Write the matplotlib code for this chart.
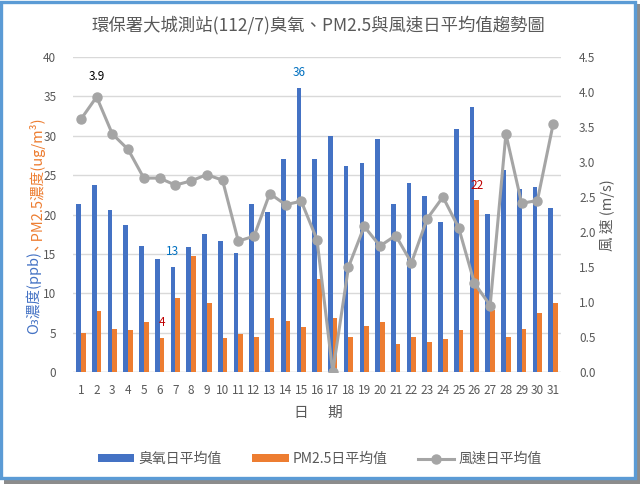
import matplotlib
matplotlib.use("Agg")
import matplotlib.pyplot as plt
from matplotlib.patches import Rectangle
import numpy as np

plt.rcParams['font.family'] = ['Noto Sans CJK TC', 'DejaVu Sans']

days = [str(i) for i in range(1, 32)]
o3 = [21.3, 23.7, 20.6, 18.7, 16.0, 14.4, 13.3, 15.9, 17.5, 16.6, 15.1, 21.3, 20.3, 27.0, 36.1, 27.0,
      30.0, 26.2, 26.6, 29.6, 21.3, 24.0, 22.4, 19.1, 30.8, 33.6, 20.1, 25.7, 23.2, 23.5, 20.8]
pm25 = [5.0, 7.7, 5.4, 5.3, 6.4, 4.3, 9.4, 14.7, 8.7, 4.3, 4.8, 4.5, 6.9, 6.5, 5.7, 11.8,
        6.9, 4.4, 5.8, 6.4, 3.6, 4.5, 3.8, 4.2, 5.3, 21.8, 7.9, 4.4, 5.4, 7.5, 8.8]
wind = [3.61, 3.93, 3.40, 3.18, 2.77, 2.77, 2.67, 2.73, 2.82, 2.74, 1.87, 1.94, 2.55, 2.39, 2.44, 1.89,
        0.0, 1.50, 2.08, 1.80, 1.95, 1.56, 2.19, 2.50, 2.06, 1.27, 0.95, 3.40, 2.41, 2.45, 3.54]
left_ticks = [0, 5, 10, 15, 20, 25, 30, 35, 40]
right_ticks = [0.0, 0.5, 1.0, 1.5, 2.0, 2.5, 3.0, 3.5, 4.0, 4.5]

title = "環保署大城測站(112/7)臭氧、PM2.5與風速日平均值趨勢圖"
legend_labels = ["臭氧日平均值", "PM2.5日平均值", "風速日平均值"]

W, H = 642, 484
fig = plt.figure(figsize=(W / 100, H / 100), dpi=100)

# frame with shadow
fig.patches.append(Rectangle((4 / W, 0), 636 / W, 480 / H, transform=fig.transFigure,
                             facecolor='#8c8c8c', edgecolor='none', zorder=-3))
fig.patches.append(Rectangle((1.5 / W, 6.5 / H), 633.5 / W, 476 / H, transform=fig.transFigure,
                             facecolor='white', edgecolor='#5B9BD5', linewidth=2.4, zorder=-2))

ax = fig.add_axes([73 / W, 1 - 372 / H, (561 - 73) / W, (372 - 57) / H])
ax.set_facecolor('none')
x = np.arange(len(days))
gray = '#595959'
b1 = ax.bar(x - 0.15, o3, width=0.3, color='#4472C4', zorder=2)
b2 = ax.bar(x + 0.15, pm25, width=0.3, color='#ED7D31', zorder=2)
ax.set_xlim(-0.5, len(days) - 0.5)
ax.set_ylim(0, 40)
ax.set_yticks(left_ticks)
ax.set_xticks(x)
ax.set_xticklabels(days)
ax.grid(axis='y', color='#D9D9D9', linewidth=1, zorder=0)
ax.set_axisbelow(True)
for s in ax.spines.values():
    s.set_visible(False)
ax.tick_params(axis='both', length=0, colors=gray, labelsize=8.5)
ax.tick_params(axis='y', pad=12)
ax.tick_params(axis='x', pad=9)
ax.axhline(0, color='#D9D9D9', linewidth=1, zorder=1)

ax2 = ax.twinx()
ln, = ax2.plot(x, wind, color='#A5A5A5', linewidth=2.2, marker='o', markersize=6.5, zorder=3)
ax2.set_ylim(0, 4.5)
ax2.set_yticks(right_ticks)
ax2.set_yticklabels([f"{v:.1f}" for v in right_ticks])
for s in ax2.spines.values():
    s.set_visible(False)
ax2.tick_params(axis='y', length=0, colors=gray, labelsize=8.5, pad=13)

# data labels
ax.annotate("13", (x[6] - 0.15, o3[6]), xytext=(0, 11), textcoords='offset points',
            ha='center', va='center', color='#0070C0', fontsize=8.5)
ax.annotate("36", (x[14] - 0.15, o3[14]), xytext=(0, 11), textcoords='offset points',
            ha='center', va='center', color='#0070C0', fontsize=8.5)
ax.annotate("4", (x[5] + 0.15, pm25[5]), xytext=(0, 11), textcoords='offset points',
            ha='center', va='center', color='#C00000', fontsize=8.5)
ax.annotate("22", (x[25] + 0.15, pm25[25]), xytext=(0, 11), textcoords='offset points',
            ha='center', va='center', color='#C00000', fontsize=8.5)
ax2.annotate("3.9", (x[1], wind[1]), xytext=(0, 15), textcoords='offset points',
             ha='center', va='center', color='black', fontsize=8.5)

fig.text(318 / W, 1 - 25 / H, title, ha='center', va='center', fontsize=12.5, color=gray)
fig.text(318 / W, 1 - 413 / H, "日      期", ha='center', va='center', fontsize=10.5, color=gray)
fig.text(607 / W, 1 - 215 / H, "風 速 (m/s)", ha='center', va='center', rotation=90,
         fontsize=10.5, color=gray)

# left y label in two colours
t1 = fig.text(33 / W, 1 - 334 / H, "O₃濃度(ppb)", ha='center', va='bottom', rotation=90,
              fontsize=10.5, color='#4472C4', family=['Noto Sans CJK TC', 'DejaVu Sans'])
fig.canvas.draw()
bb = t1.get_window_extent()
fig.text(33 / W, (bb.y1 + 1) / H, "、PM2.5濃度(ug/m³)", ha='center', va='bottom', rotation=90,
         fontsize=10.5, color='#ED7D31', family=['Noto Sans CJK TC', 'DejaVu Sans'])

fig.legend([b1, b2, ln], legend_labels, loc='center', bbox_to_anchor=(320 / W, 1 - 459 / H),
           ncol=3, frameon=False, fontsize=10, labelcolor=gray, handlelength=2.6,
           handleheight=0.5, columnspacing=2.2, handletextpad=0.3)

fig.savefig("out.png", dpi=100)
